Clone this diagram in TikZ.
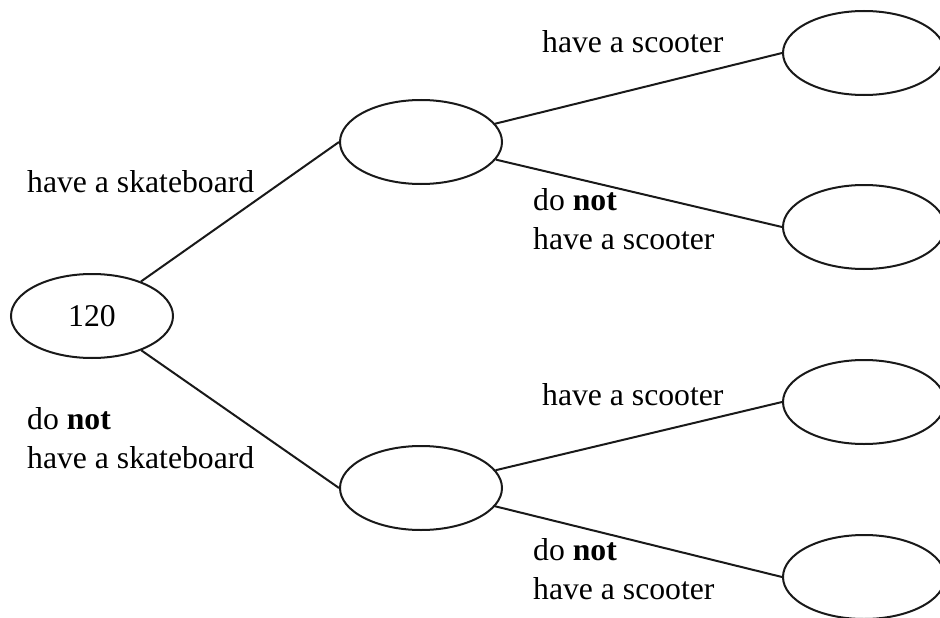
\documentclass[tikz,border=0pt]{standalone}
\usepackage{fontspec}
\setmainfont{Liberation Serif}
\usetikzlibrary{shapes.geometric}
\begin{document}
\begin{tikzpicture}[x=1pt,y=-1pt,
  oval/.style={draw=black!90,line width=2pt,ellipse,minimum width=162pt,minimum height=84pt,inner sep=0pt},
  branch/.style={draw=black!90,line width=2pt},
  lbl/.style={inner sep=0pt,anchor=base west,font=\fontsize{31.7}{39}\selectfont,align=left}]
\useasboundingbox (0,0) rectangle (940,618);
\clip (0,0) rectangle (940,618);
\node[oval,font=\fontsize{31.7}{39}\selectfont] (root) at (92,316) {120};
\node[oval] (mt) at (421,142) {};
\node[oval] (mb) at (421,488) {};
\node[oval] (r1) at (864,53) {};
\node[oval] (r2) at (864,227) {};
\node[oval] (r3) at (864,402) {};
\node[oval] (r4) at (864,577) {};
\draw[branch] (root) -- (mt.west);
\draw[branch] (root) -- (mb.west);
\draw[branch] (mt) -- (r1.west);
\draw[branch] (mt) -- (r2.west);
\draw[branch] (mb) -- (r3.west);
\draw[branch] (mb) -- (r4.west);
\node[lbl] (l1) at (27,192) {have a skateboard};
\node[lbl] (l2) at (27,468) {do \textbf{not}\\have a skateboard};
\node[lbl] (l3) at (542,53) {have a scooter};
\node[lbl] (l4) at (533,249) {do \textbf{not}\\have a scooter};
\node[lbl] (l5) at (542,405) {have a scooter};
\node[lbl] (l6) at (533,599) {do \textbf{not}\\have a scooter};
\end{tikzpicture}
\end{document}
